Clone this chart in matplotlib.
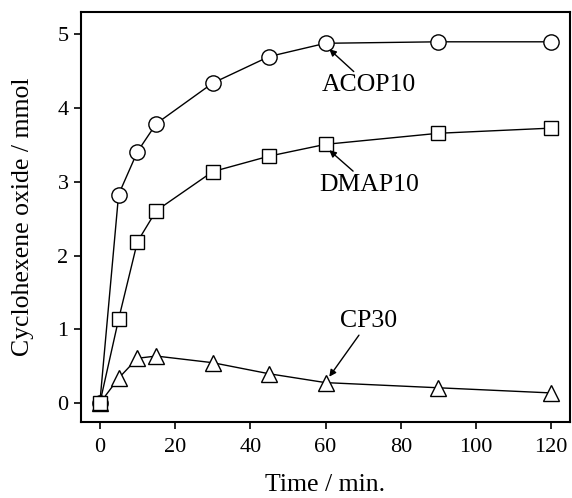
import numpy as np
import matplotlib.pyplot as plt

plt.rcParams['font.family'] = ['Liberation Serif', 'DejaVu Serif']

t = [0, 5, 10, 15, 30, 45, 60, 90, 120]
acop10 = [0, 2.83, 3.41, 3.79, 4.34, 4.70, 4.88, 4.90, 4.90]
dmap10 = [0, 1.14, 2.19, 2.61, 3.14, 3.35, 3.51, 3.66, 3.73]
cp30 = [0, 0.34, 0.61, 0.64, 0.55, 0.40, 0.28, 0.21, 0.14]

fig = plt.figure(figsize=(5.72, 4.98), dpi=100)
ax = fig.add_axes([0.1416, 0.1532, 0.855, 0.8221])

mk = dict(color='black', lw=1.0, markerfacecolor='white', markeredgecolor='black',
          markeredgewidth=1.0, clip_on=False, zorder=3)
ax.plot(t, cp30, marker='^', markersize=11, **mk)
ax.plot(t, acop10, marker='o', markersize=11, **mk)
ax.plot(t, dmap10, marker='s', markersize=10.5, **mk)

arr = dict(arrowstyle='-|>', color='black', lw=1.0, mutation_scale=10, shrinkA=0, shrinkB=0)
ax.annotate('ACOP10', xy=(61, 4.80), xytext=(71.5, 4.31), fontsize=18.5,
            ha='center', va='center', arrowprops=arr)
ax.annotate('DMAP10', xy=(61, 3.43), xytext=(71.5, 2.96), fontsize=18.5,
            ha='center', va='center', arrowprops=arr)
ax.annotate('CP30', xy=(61, 0.36), xytext=(71.5, 1.11), fontsize=18.5,
            ha='center', va='center', arrowprops=arr)

ax.set_xlim(-5, 125)
ax.set_ylim(-0.25, 5.3)
ax.set_xticks([0, 20, 40, 60, 80, 100, 120])
ax.set_yticks([0, 1, 2, 3, 4, 5])
ax.tick_params(direction='out', length=5, width=1.2, labelsize=16)
ax.tick_params(axis='x', pad=7)
ax.tick_params(axis='y', pad=4)
for s in ax.spines.values():
    s.set_linewidth(1.5)

ax.set_xlabel('Time / min.', fontsize=18.5, labelpad=12)
ax.set_ylabel('Cyclohexene oxide / mmol', fontsize=18.5, labelpad=17)

fig.savefig('out.png', dpi=100)
